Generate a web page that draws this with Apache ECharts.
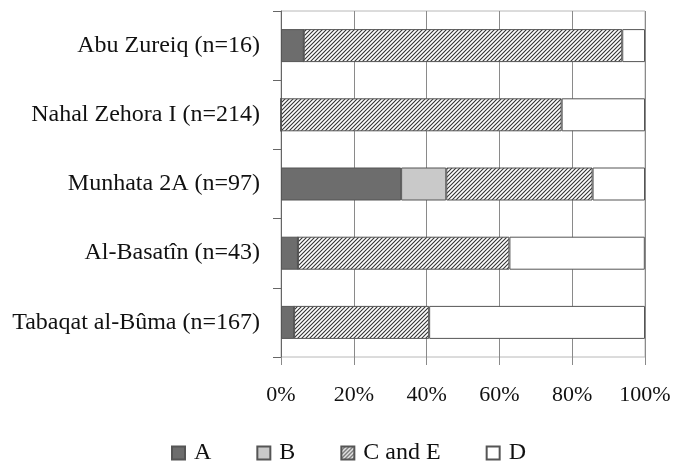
<!DOCTYPE html>
<html><head><meta charset="utf-8">
<script src="https://cdn.jsdelivr.net/npm/echarts@6/dist/echarts.min.js"></script>
<style>html,body{margin:0;padding:0;background:#fff}#c{width:675px;height:463px}</style>
</head><body><div id="c"></div>
<script>
const categories = ["Abu Zureiq (n=16)", "Nahal Zehora I (n=214)", "Munhata 2A (n=97)", "Al-Basatîn (n=43)", "Tabaqat al-Bûma (n=167)"];
const seriesNames = ["A", "B", "C and E", "D"];
const valuesA = [6.25, 0, 33.0, 4.65, 3.6];
const valuesB = [0, 0, 12.4, 0, 0];
const valuesCE = [87.5, 77.1, 40.2, 58.1, 37.1];
const valuesD = [6.25, 22.9, 14.4, 37.2, 59.3];
const xTicks = [0, 20, 40, 60, 80, 100];

function hatch() {
  const s = 4, c = document.createElement('canvas');
  c.width = s; c.height = s;
  const g = c.getContext('2d');
  g.fillStyle = '#fff'; g.fillRect(0, 0, s, s);
  g.strokeStyle = '#333'; g.lineWidth = 1.1;
  g.beginPath();
  g.moveTo(-1, s + 1); g.lineTo(s + 1, -1);
  g.moveTo(-1, 1); g.lineTo(1, -1);
  g.moveTo(s - 1, s + 1); g.lineTo(s + 1, s - 1);
  g.stroke();
  return c;
}

const font = "'Liberation Serif', 'Times New Roman', serif";
const border = {borderColor: '#555', borderWidth: 1};
const fills = ['#6d6d6d', '#c9c9c9', {image: hatch(), repeat: 'repeat'}, '#ffffff'];
const data = [valuesA, valuesB, valuesCE, valuesD];

const chart = echarts.init(document.getElementById('c'), null, {renderer: 'canvas'});
chart.setOption({
  animation: false,
  grid: {left: 281, right: 30, top: 11, bottom: 106, show: true, borderColor: '#b8b8b8', borderWidth: 1},
  legend: {
    top: 436, left: 166, itemWidth: 13, itemHeight: 13, itemGap: 45, icon: 'rect',
    data: seriesNames,
    textStyle: {fontFamily: font, fontSize: 24, color: '#111', padding: [0, 0, 0, 4]}
  },
  xAxis: {
    type: 'value', min: 0, max: 100, interval: 20,
    axisLine: {show: false},
    axisTick: {show: true, length: 8, lineStyle: {color: '#8a8a8a'}},
    splitLine: {lineStyle: {color: '#8a8a8a', width: 1}},
    axisLabel: {formatter: v => xTicks.includes(v) ? v + '%' : '', fontFamily: font, fontSize: 22, color: '#111', margin: 27}
  },
  yAxis: {
    type: 'category', data: categories, inverse: true,
    axisLine: {show: true, lineStyle: {color: '#666'}},
    axisTick: {show: true, length: 8, lineStyle: {color: '#666'}},
    axisLabel: {fontFamily: font, fontSize: 24, color: '#111', margin: 21}
  },
  series: seriesNames.map((n, i) => ({
    name: n, type: 'bar', stack: 'all', data: data[i], barWidth: 33,
    itemStyle: Object.assign({color: fills[i]}, border),
    emphasis: {disabled: true}
  }))
});
</script></body></html>
